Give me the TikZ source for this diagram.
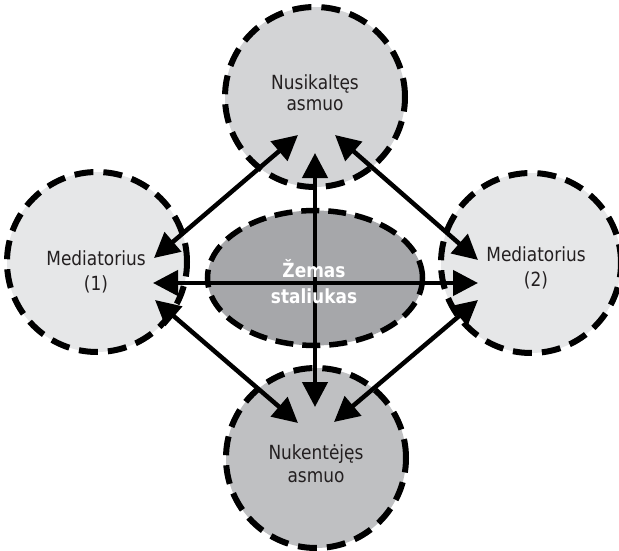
\documentclass[tikz,border=0pt]{standalone}
\usepackage{fontspec}
\setmainfont{DejaVu Sans}[FakeStretch=0.87]
\usetikzlibrary{shapes.geometric,arrows.meta}
\definecolor{fillTop}{HTML}{D3D4D6}
\definecolor{fillSide}{HTML}{E6E7E8}
\definecolor{fillBottom}{HTML}{BFC0C2}
\definecolor{fillTable}{HTML}{A6A7AA}
\definecolor{ink}{HTML}{231F20}
\tikzset{
  party/.style={circle, minimum size=180pt, inner sep=0pt, draw=black,
    line width=6pt, dash pattern=on 19pt off 10pt},
  label/.style={align=center, text=ink, inner sep=0pt},
  tablebox/.style={ellipse, minimum width=215pt, minimum height=135pt,
    inner sep=0pt, draw=black, fill=fillTable, line width=5.5pt,
    dash pattern=on 18pt off 9pt},
  tabletext/.style={font=\fontsize{19.5pt}{26pt}\selectfont\bfseries,
    text=white, align=center, inner sep=0pt},
  link/.style={line width=4.5pt, draw=black,
    {Triangle[length=25pt,width=25pt]}-{Triangle[length=25pt,width=25pt]}}
}
\begin{document}
\begin{tikzpicture}[x=1pt,y=-1pt]
  \useasboundingbox (0,0) rectangle (619,551);

  % participants around the table
  \node[party, fill=fillTop]    (off) at (315,97)  {};
  \node[party, fill=fillSide]   (med1) at (97,262) {};
  \node[party, fill=fillSide]   (med2) at (531,263) {};
  \node[party, fill=fillBottom] (vic) at (316,458) {};
  \node[tablebox] (table) at (315,278) {};

  % labels
  \node[label, font=\fontsize{19.5pt}{21pt}\selectfont]
    (offL) at (315,93) {Nusikaltęs\\asmuo};
  \node[label, font=\fontsize{19.5pt}{25pt}\selectfont]
    (med1L) at (96,272) {Mediatorius\\(1)};
  \node[label, font=\fontsize{19.5pt}{25pt}\selectfont]
    (med2L) at (536,268) {Mediatorius\\(2)};
  \node[label, font=\fontsize{19.5pt}{23pt}\selectfont]
    (vicL) at (316,464) {Nukentėjęs\\asmuo};

  % arrow end points inside the circles
  \path (med1.center) ++(57,-4)  coordinate (m1u);
  \path (med1.center) ++(56,21)  coordinate (m1c);
  \path (med1.center) ++(58,38)  coordinate (m1d);
  \path (med2.center) ++(-53,-3) coordinate (m2u);
  \path (med2.center) ++(-53,20) coordinate (m2c);
  \path (med2.center) ++(-53,37) coordinate (m2d);
  \path (off.center)  ++(-17,38) coordinate (ol);
  \path (off.center)  ++(0,56)   coordinate (oc);
  \path (off.center)  ++(20,38)  coordinate (or);
  \path (vic.center)  ++(-18,-35) coordinate (vl);
  \path (vic.center)  ++(-1,-51)  coordinate (vc);
  \path (vic.center)  ++(18,-36)  coordinate (vr);

  % connectors
  \draw[link] (m1u) -- (ol);
  \draw[link] (or) -- (m2u);
  \draw[link] (m1d) -- (vl);
  \draw[link] (vr) -- (m2d);
  \draw[link] (m1c) -- (m2c);
  \draw[link] (oc) -- (vc);

  \node[tabletext] (tableL) at (314,282) {Žemas\\staliukas};
\end{tikzpicture}
\end{document}
